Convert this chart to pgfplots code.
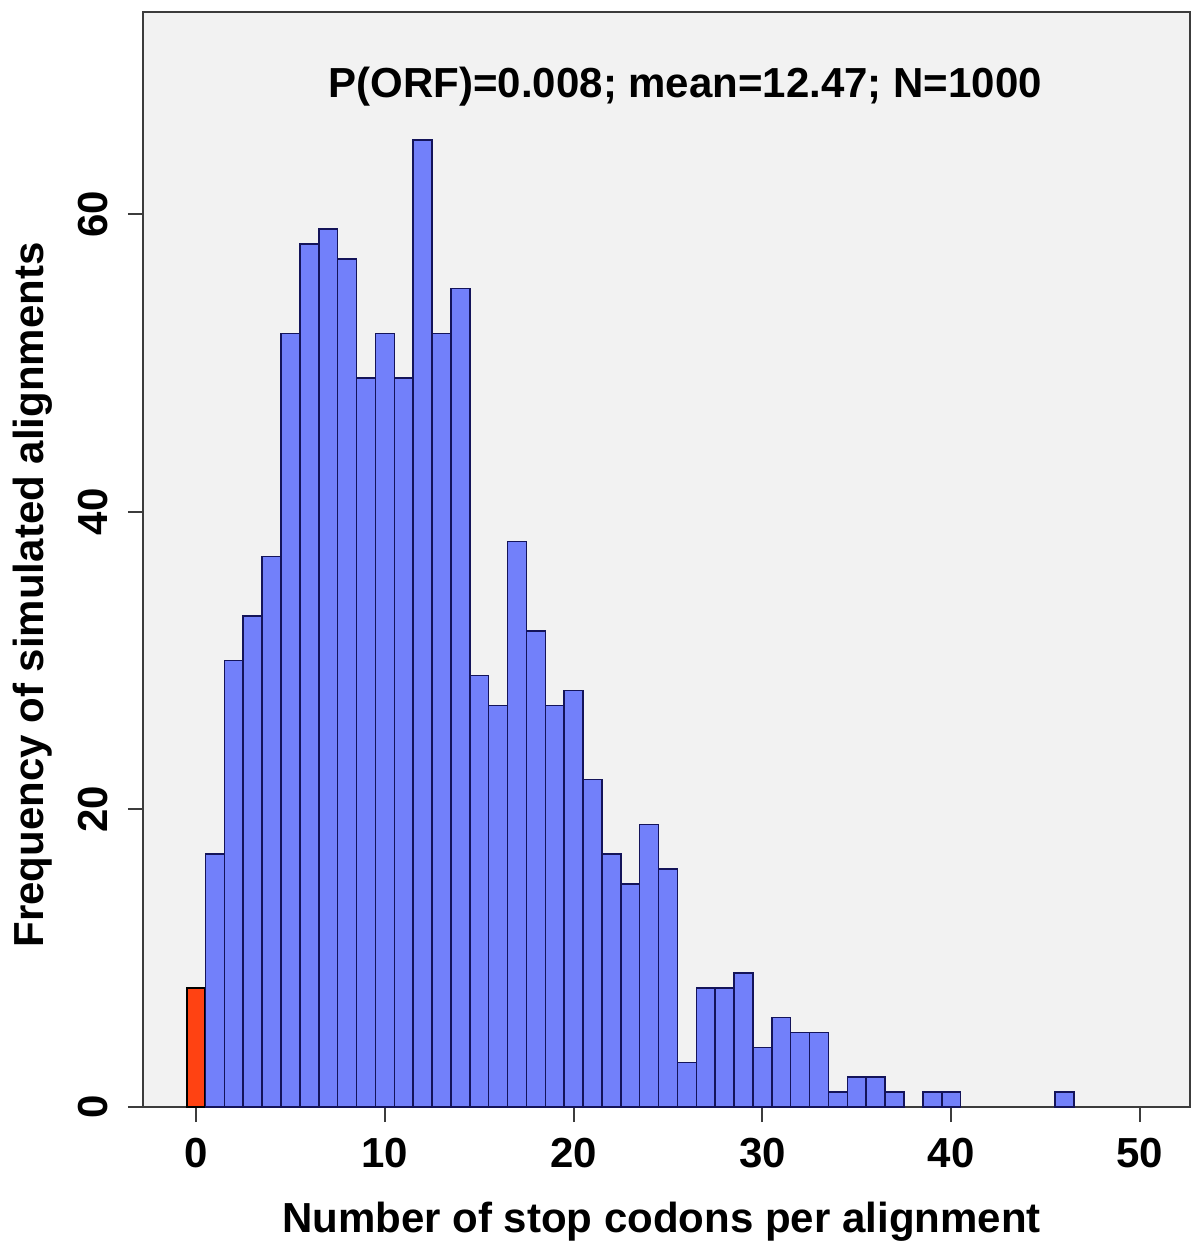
\documentclass[border=0pt]{standalone}
\usepackage{pgfplots}
\pgfplotsset{compat=1.18}
\usepackage{fontspec}
\setmainfont{Liberation Sans}
\definecolor{bgcol}{RGB}{242,242,242}
\definecolor{barblue}{RGB}{114,128,250}
\definecolor{baredge}{RGB}{20,20,90}
\definecolor{barred}{RGB}{255,66,18}
\definecolor{axcol}{RGB}{60,60,60}
\begin{document}
\begin{tikzpicture}
\begin{axis}[
  scale only axis,
  width=523.5pt, height=547.5pt,
  xmin=-2.81, xmax=52.65,
  ymin=0, ymax=73.6,
  axis background/.style={fill=bgcol},
  axis line style={axcol, line width=1pt},
  tick style={axcol, line width=1pt},
  tick align=outside,
  major tick length=7.5pt,
  xtick pos=bottom, ytick pos=left,
  xtick={0,10,20,30,40,50},
  ytick={0,20,40,60},
  /pgf/number format/assume math mode=true,
  tick label style={font=\fontsize{21}{24}\selectfont\bfseries},
  xticklabel style={anchor=base, inner sep=0pt, yshift=-22.5pt},
  yticklabel style={rotate=90, anchor=base, inner sep=0pt, yshift=10pt},
  xlabel={Number of stop codons per alignment},
  ylabel={Frequency of simulated alignments},
  label style={font=\fontsize{21}{24}\selectfont\bfseries},
  xlabel style={at={(axis description cs:0.4952,0)}, anchor=base, yshift=-62.5pt, inner sep=0pt},
  ylabel style={at={(axis description cs:-0.0955,0.4676)}, anchor=base, inner sep=0pt},
  clip=false,
]
\addplot[ybar, bar shift=0pt, bar width=1, fill=barred, draw=black, line width=1pt] coordinates {(0,8)};
\addplot[ybar, bar shift=0pt, bar width=1, fill=barblue, draw=baredge, line width=0.75pt] coordinates {
(1,17) (2,30) (3,33) (4,37) (5,52) (6,58) (7,59) (8,57) (9,49) (10,52)
(11,49) (12,65) (13,52) (14,55) (15,29) (16,27) (17,38) (18,32) (19,27) (20,28)
(21,22) (22,17) (23,15) (24,19) (25,16) (26,3) (27,8) (28,8) (29,9) (30,4)
(31,6) (32,5) (33,5) (34,1) (35,2) (36,2) (37,1) (39,1) (40,1) (46,1)
};
\node[anchor=base, font=\fontsize{21}{24}\selectfont\bfseries, inner sep=0pt, yshift=-43pt] at (rel axis cs:0.518,1) {P(ORF)=0.008; mean=12.47; N=1000};
\end{axis}
\pgfresetboundingbox
\path[use as bounding box] ([shift={(-71.5pt,-70.5pt)}]current axis.south west) rectangle ([shift={(5.5pt,6pt)}]current axis.north east);
\end{tikzpicture}
\end{document}
